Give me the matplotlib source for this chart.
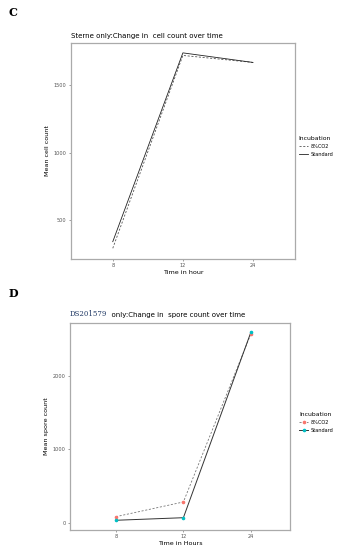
import matplotlib.pyplot as plt

# Panel C data: mean cell count (Sterne only)
hours = ["8", "12", "24"]
cell_co2 = [290, 1721, 1669]
cell_std = [339, 1740, 1669]

# Panel D data: mean spore count (DS201579 only)
spore_co2 = [82, 282, 2567]
spore_std = [33, 68, 2590]

groups = ["8%CO2", "Standard"]
red = "#F8766D"
teal = "#00BFC4"
frame = "#aaaaaa"
pos = [1, 2, 3]

fig = plt.figure(figsize=(3.39, 5.5), dpi=100)


def style_axes(ax, xlabel, ylabel, yticks, ylim, xlim):
    ax.set_xlim(*xlim)
    ax.set_ylim(*ylim)
    ax.set_xticks(pos)
    ax.set_xticklabels(hours)
    ax.set_yticks(yticks)
    ax.set_yticklabels([str(v) for v in yticks])
    ax.tick_params(labelsize=3.6, colors="#555555", length=1.5, width=0.4, pad=1.5)
    for s in ax.spines.values():
        s.set_color(frame)
        s.set_linewidth(0.9)
    ax.set_xlabel(xlabel, fontsize=4.6, labelpad=1.5)
    ax.set_ylabel(ylabel, fontsize=4.6, labelpad=3)


# ---- panel C ----
axc = fig.add_axes([0.2086, 0.529, 0.6617, 0.393])
axc.plot(pos, cell_co2, color="#555555", lw=0.6, ls=(0, (2.5, 2)), label=groups[0])
axc.plot(pos, cell_std, color="#222222", lw=0.6, label=groups[1])
style_axes(axc, "Time in hour", "Mean cell count", [500, 1000, 1500], (210, 1814), (0.4, 3.6))
axc.text(0.0, 1.02, "Sterne only:Change in  cell count over time", transform=axc.transAxes,
         fontsize=5, ha="left", va="bottom")
legc = axc.legend(title="Incubation", loc="center left", bbox_to_anchor=(1.0, 0.52),
                  frameon=False, fontsize=3.6, title_fontsize=4.4, handlelength=1.8,
                  handletextpad=0.6, borderaxespad=0.3, labelspacing=0.6)
legc._legend_box.align = "left"

# ---- panel D ----
axd = fig.add_axes([0.2065, 0.0364, 0.649, 0.377])
axd.plot(pos, spore_co2, color="#777777", lw=0.6, ls=(0, (2.5, 2)))
axd.plot(pos, spore_std, color="#333333", lw=0.7)
axd.scatter(pos, spore_co2, color=red, s=2.5, zorder=3)
axd.scatter(pos, spore_std, color=teal, s=2.5, zorder=3)
style_axes(axd, "Time in Hours", "Mean spore count", [0, 1000, 2000], (-99, 2721), (0.32, 3.58))
t1 = axd.text(0.0, 1.02, "DS201579", transform=axd.transAxes, fontsize=5,
              ha="left", va="bottom", family="DejaVu Serif", color="#1f3864")
axd.annotate("  only:Change in  spore count over time", xy=(1, 0), xycoords=t1,
             fontsize=5, ha="left", va="bottom")
h1, = axd.plot([], [], color="#777777", lw=0.6, ls=(0, (2.5, 2)), marker="o",
               markersize=1.6, markerfacecolor=red, markeredgecolor=red)
h2, = axd.plot([], [], color="#333333", lw=0.7, marker="o",
               markersize=1.6, markerfacecolor=teal, markeredgecolor=teal)
legd = axd.legend([h1, h2], groups, title="Incubation", loc="center left",
                  bbox_to_anchor=(1.025, 0.52), frameon=False, fontsize=3.6,
                  title_fontsize=4.4, handlelength=1.8, handletextpad=0.6,
                  borderaxespad=0.3, labelspacing=0.6)
legd._legend_box.align = "left"

# panel letters
fig.text(0.025, 0.978, "C", fontsize=8, family="DejaVu Serif", weight="bold", va="center")
fig.text(0.025, 0.467, "D", fontsize=8, family="DejaVu Serif", weight="bold", va="center")

fig.savefig("out.png", dpi=100, facecolor="white")
